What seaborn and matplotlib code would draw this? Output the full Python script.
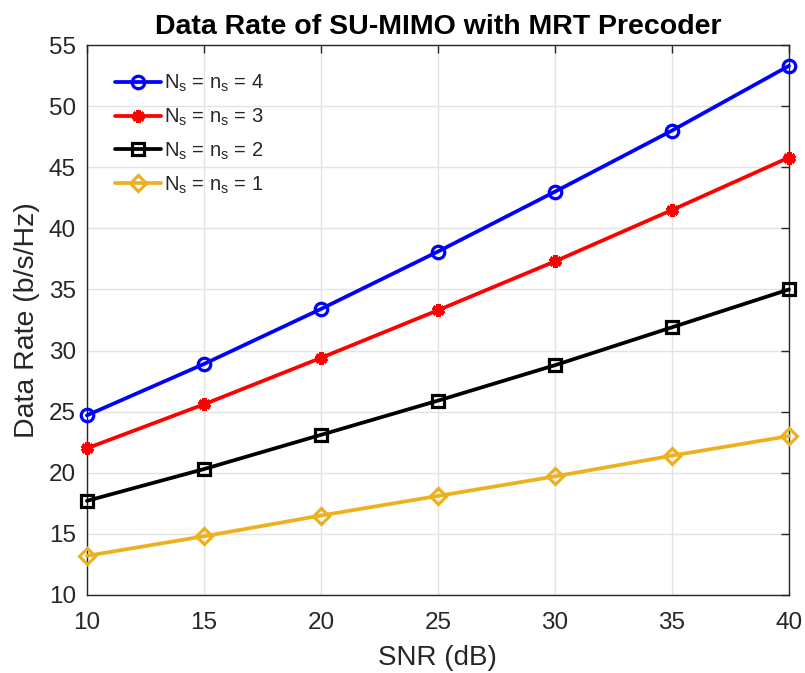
import matplotlib
matplotlib.use("Agg")
import matplotlib.pyplot as plt
import seaborn as sns
import pandas as pd

snr = [10, 15, 20, 25, 30, 35, 40]
rate_ns4 = [24.7, 28.9, 33.4, 38.1, 43.0, 48.0, 53.3]
rate_ns3 = [22.0, 25.6, 29.4, 33.3, 37.3, 41.5, 45.8]
rate_ns2 = [17.7, 20.3, 23.1, 25.9, 28.8, 31.9, 35.0]
rate_ns1 = [13.2, 14.8, 16.5, 18.1, 19.7, 21.4, 23.0]
labels = [r"N$_\mathrm{s}$ = n$_\mathrm{s}$ = 4", r"N$_\mathrm{s}$ = n$_\mathrm{s}$ = 3",
          r"N$_\mathrm{s}$ = n$_\mathrm{s}$ = 2", r"N$_\mathrm{s}$ = n$_\mathrm{s}$ = 1"]
colors = ["#0000FF", "#FF0000", "#000000", "#EDB120"]
markers = ["o", (6, 2, 0), "s", "D"]

sns.set_style("white")
plt.rcParams["font.family"] = ["Liberation Sans", "DejaVu Sans"]
plt.rcParams["mathtext.fontset"] = "custom"
plt.rcParams["mathtext.rm"] = "Liberation Sans"
plt.rcParams["mathtext.it"] = "Liberation Sans:italic"

fig = plt.figure(figsize=(8.05, 6.73), dpi=100)
ax = fig.add_axes([0.108, 0.116, 0.872, 0.817])

for vals, lab, c, m in zip([rate_ns4, rate_ns3, rate_ns2, rate_ns1], labels, colors, markers):
    df = pd.DataFrame({"snr": snr, "rate": vals})
    star = m == (6, 2, 0)
    sns.lineplot(data=df, x="snr", y="rate", ax=ax, color=c, linewidth=2.7, label=lab,
                 marker=m, markersize=9 if m != "D" else 8.5,
                 markerfacecolor=c if star else "none",
                 markeredgecolor=c, markeredgewidth=3.4 if star else 2.3, clip_on=False, zorder=3)

ax.set_xlim(10, 40)
ax.set_ylim(10, 55)
ax.set_xticks(range(10, 41, 5))
ax.set_yticks(range(10, 56, 5))
ax.grid(True, color="#E3E3E3", linewidth=1.0)
ax.set_axisbelow(True)
for s in ax.spines.values():
    s.set_color("#262626")
    s.set_linewidth(1.0)
    s.set_zorder(2)
ax.tick_params(direction="in", length=6, width=1.0, colors="#262626", labelsize=17.5, top=True, right=True,
               labeltop=False, labelright=False)
ax.tick_params(axis="x", pad=12)
ax.tick_params(axis="y", pad=8)
ax.set_xlabel("SNR (dB)", fontsize=20, color="#262626", labelpad=8)
ax.set_ylabel("Data Rate (b/s/Hz)", fontsize=20.5, color="#262626", labelpad=6)
ax.set_title("Data Rate of SU-MIMO with MRT Precoder", fontsize=20.5, fontweight="bold", pad=8, color="black")
leg = ax.legend(loc="upper left", frameon=False, fontsize=14.5, handlelength=2.3,
                borderaxespad=0.3, labelspacing=0.62, handletextpad=0.15, bbox_to_anchor=(0.02, 0.975))
fig.savefig("out.png", dpi=100)
